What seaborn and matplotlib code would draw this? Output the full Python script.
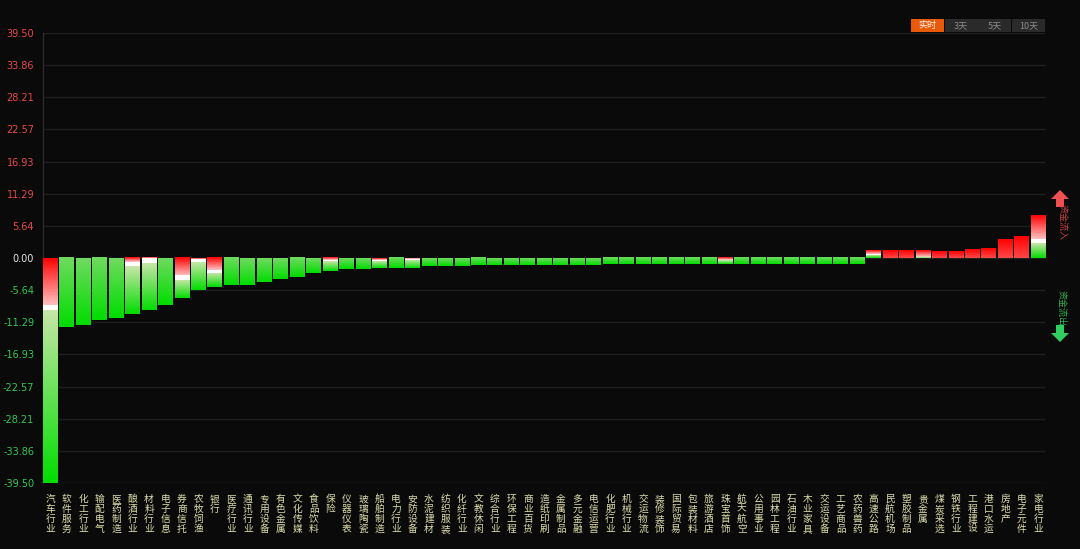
import numpy as np
import pandas as pd
import matplotlib
matplotlib.use("Agg")
import matplotlib.pyplot as plt
from matplotlib.colors import to_rgb
from matplotlib.patches import Rectangle, Polygon
import seaborn as sns

# sector net flow (亿), red_len = length of the inflow (red) part measured from bar top
sectors = ["汽车行业", "软件服务", "化工行业", "输配电气", "医药制造", "酿酒行业", "材料行业",
           "电子信息", "券商信托", "农牧饲渔", "银行", "医疗行业", "通讯行业", "专用设备",
           "有色金属", "文化传媒", "食品饮料", "保险", "仪器仪表", "玻璃陶瓷", "船舶制造",
           "电力行业", "安防设备", "水泥建材", "纺织服装", "化纤行业", "文教休闲", "综合行业",
           "环保工程", "商业百货", "造纸印刷", "金属制品", "多元金融", "电信运营", "化肥行业",
           "机械行业", "交运物流", "装修装饰", "国际贸易", "包装材料", "旅游酒店", "珠宝首饰",
           "航天航空", "公用事业", "园林工程", "石油行业", "木业家具", "交运设备", "工艺商品",
           "农药兽药", "高速公路", "民航机场", "塑胶制品", "贵金属", "煤炭采选", "钢铁行业",
           "工程建设", "港口水运", "房地产", "电子元件", "家电行业"]
net_flow = [-39.50, -12.17, -11.70, -10.90, -10.50, -9.90, -9.20,
            -8.20, -7.10, -5.60, -5.15, -4.80, -4.70, -4.20,
            -3.60, -3.40, -2.60, -2.30, -1.90, -1.90, -1.70,
            -1.80, -1.70, -1.35, -1.35, -1.35, -1.25, -1.20,
            -1.18, -1.18, -1.17, -1.16, -1.15, -1.15, -1.14,
            -1.14, -1.13, -1.13, -1.12, -1.12, -1.11, -1.11,
            -1.10, -1.10, -1.09, -1.09, -1.08, -1.08, -1.07,
            -1.07, 1.25, 1.24, 1.24, 1.23, 1.22, 1.22,
            1.58, 1.70, 3.20, 3.70, 7.40]
red_len = [8.3, 0, 0, 0, 0, 0.8, 0.15,
           0, 3.2, 0.15, 2.2, 0, 0, 0,
           0, 0, 0, 0.45, 0, 0, 0.3,
           0, 0.1, 0, 0, 0, 0, 0,
           0, 0, 0, 0, 0, 0, 0,
           0, 0, 0, 0, 0, 0, 0.4,
           0, 0, 0, 0, 0, 0, 0,
           0, 0.6, 1.24, 1.24, 1.0, 1.22, 1.22,
           1.58, 1.70, 3.20, 3.70, 4.1]
ymax = 39.50
yticks = [39.50, 33.86, 28.21, 22.57, 16.93, 11.29, 5.64, 0.00,
          -5.64, -11.29, -16.93, -22.57, -28.21, -33.86, -39.50]
periods = ["实时", "3天", "5天", "10天"]

df = pd.DataFrame({"sector": sectors, "flow": net_flow})

sns.set_theme(style="dark")
plt.rcParams["font.family"] = ["Noto Sans CJK SC", "DejaVu Sans"]
bg = "#0a0a0a"

fig = plt.figure(figsize=(10.8, 5.49), dpi=100, facecolor=bg)
ax = fig.add_axes([42.5 / 1080, 66 / 549, (1046 - 42.5) / 1080, 450 / 549])
ax.set_facecolor(bg)

sns.barplot(data=df, x="sector", y="flow", ax=ax, width=0.9, color="#00dd00",
            saturation=1, zorder=2)


def lerp(c1, c2, f):
    a, b = np.array(to_rgb(c1)), np.array(to_rgb(c2))
    return a + (b - a) * f


# paint a vertical gradient inside every bar
for p, v, r in zip(ax.patches, net_flow, red_len):
    x0, w = p.get_x(), p.get_width()
    top, bot = max(0, v), min(0, v)
    length = top - bot
    p.set_facecolor("none")
    p.set_edgecolor("none")
    n = 300
    d = (np.arange(n) + 0.5) / n * length
    band = min(0.85, 0.1 * length)
    split = 0 < r < length
    img = np.zeros((n, 1, 3))
    for i, di in enumerate(d):
        if r > 0 and di < r:
            end = "#ffc0c0" if split else "#ff4848"
            img[i, 0] = lerp("#ff0000", end, di / r)
        elif split and di < r + band:
            img[i, 0] = (1, 1, 1)
        else:
            start = r + band if split else 0
            g = (di - start) / max(length - start, 1e-6)
            g0 = "#c8e6a8" if split else "#70da60"
            img[i, 0] = lerp(g0, "#00dd00", g)
    ax.imshow(img, extent=[x0, x0 + w, bot, top], aspect="auto", origin="upper",
              interpolation="nearest", zorder=3)

ax.set_xlim(-0.47, len(sectors) - 0.53)
ax.set_ylim(-ymax, ymax)
ax.set_yticks(yticks)
ax.set_yticklabels([f"{t:.2f}" for t in yticks], fontsize=7, family="DejaVu Sans")
for lab, t in zip(ax.get_yticklabels(), yticks):
    lab.set_color("#e84848" if t > 0 else ("#e8e8e8" if t == 0 else "#30c850"))
ax.tick_params(axis="y", length=0, pad=6)
ax.grid(axis="y", color="#1f1f1f", linewidth=1, zorder=0)
ax.grid(axis="x", visible=False)

ax.set_xticks(range(len(sectors)))
ax.set_xticklabels(["\n".join(s) for s in sectors], fontsize=7, color="#dcdcaa",
                   linespacing=0.98, va="top")
ax.tick_params(axis="x", length=0, pad=8)
ax.set_xlabel("")
ax.set_ylabel("")
for side in ["top", "right", "bottom"]:
    ax.spines[side].set_visible(False)
ax.spines["left"].set_color("#2a2a2a")
ax.spines["left"].set_linewidth(1)

# period buttons
W, H = 1080, 549
for i, name in enumerate(periods):
    bx = 911 + i * 33.7
    active = i == 0
    fig.patches.append(Rectangle((bx / W, 1 - 32 / H), 33 / W, 13 / H,
                                 transform=fig.transFigure,
                                 facecolor="#e85a0a" if active else "#2a2a2a",
                                 edgecolor="none"))
    fig.text((bx + 16.5) / W, 1 - 25.5 / H, name, fontsize=6.5, ha="center", va="center",
             color="#f4f4f4" if active else "#8a8a8a")

# inflow / outflow arrows at right
up = [(1060, 190), (1069, 199), (1064, 199), (1064, 207), (1056, 207), (1056, 199), (1051, 199)]
down = [(1060, 342), (1069, 333), (1064, 333), (1064, 325), (1056, 325), (1056, 333), (1051, 333)]
for pts, c in [(up, "#f05050"), (down, "#30d060")]:
    fig.patches.append(Polygon([(x / W, 1 - y / H) for x, y in pts], closed=True,
                               transform=fig.transFigure, facecolor=c, edgecolor="none"))
fig.text(1061 / W, 1 - 222 / H, "资金流入", rotation=270, fontsize=6.5, color="#c84040",
         ha="center", va="center")
fig.text(1061 / W, 1 - 308 / H, "资金流出", rotation=270, fontsize=6.5, color="#30b050",
         ha="center", va="center")

fig.savefig("out.png", dpi=100, facecolor=bg)
